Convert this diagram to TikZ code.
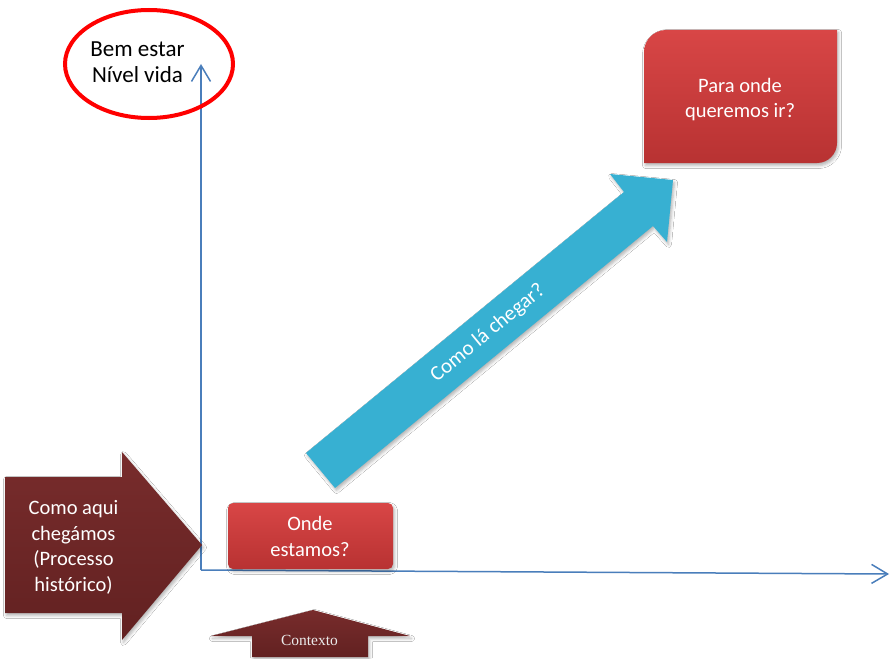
\documentclass[tikz,border=0pt]{standalone}
\usepackage{fontspec}
\setmainfont{Carlito}
\newfontfamily\timesfont{Liberation Serif}
\usetikzlibrary{arrows.meta,shadows.blur}
\definecolor{axisblue}{RGB}{74,126,187}
\definecolor{boxredtop}{RGB}{216,70,70}
\definecolor{boxredbot}{RGB}{184,50,50}
\definecolor{darkredtop}{RGB}{120,44,44}
\definecolor{darkredbot}{RGB}{98,33,33}
\definecolor{arrowblue}{RGB}{55,176,210}
\tikzset{
  axisline/.style={draw=axisblue, line width=1.5pt, -{Straight Barb[length=16pt,width=19pt,line width=1.5pt]}},
  softshadow/.style={blur shadow={shadow xshift=1.5pt, shadow yshift=-2.5pt, shadow opacity=30, shadow blur radius=3pt}},
  redshape/.style={softshadow, top color=boxredtop, bottom color=boxredbot},
  darkshape/.style={softshadow, top color=darkredtop, bottom color=darkredbot},
  blueshape/.style={softshadow, fill=arrowblue},
  whitetext/.style={text=white, align=center, inner sep=0pt, font=\fontsize{20.5}{25.5}\selectfont},
}
\begin{document}
\begin{tikzpicture}[x=1pt,y=-1pt]
\useasboundingbox[fill=white] (0,0) rectangle (890,658);

% axes
\coordinate (O) at (201,570);
\coordinate (Ytip) at (201,64);
\coordinate (Xtip) at (889,574);
\draw[axisline] (O) -- (Ytip);
\draw[axisline] (O) -- (Xtip);

% ellipse label
\draw[red, line width=4pt] (149,64) ellipse [x radius=84pt, y radius=54pt];
\node[align=center, inner sep=0pt, font=\fontsize{23}{26}\selectfont] (bem) at (137.5,62.5) {Bem estar\\Nível vida};

% Para onde queremos ir? box
\path[redshape] (644,52) .. controls (644,40) and (654,30) .. (666,30) -- (837,30) -- (837,143)
  .. controls (837,154) and (828,163) .. (817,163) -- (644,163) -- cycle;
\node[whitetext] (para) at (740,99.5) {Para onde\\queremos ir?};

% blue arrow
\path[blueshape] (306,453) -- (624,192) -- (610,174) -- (673,180) -- (667,242) -- (653,226) -- (335,488) -- cycle;
\node[text=white, inner sep=0pt, rotate=39.5, font=\fontsize{21}{25}\selectfont] (como) at (488,333) {Como lá chegar?};

% Onde estamos? box
\path[redshape, rounded corners=5pt] (228,503) rectangle (393,569);
\node[whitetext] (onde) at (310,536.5) {Onde\\estamos?};

% left arrow
\path[darkshape] (5,477) -- (122,477) -- (122,452) -- (202,545) -- (122,640) -- (122,613) -- (5,613) -- cycle;
\node[whitetext] (hist) at (73.5,547.5) {Como aqui\\chegámos\\(Processo\\histórico)};

% Contexto arrow
\path[darkshape] (252,657) -- (252,636) -- (211,636) -- (313,610) -- (410,636) -- (368,636) -- (368,657) -- cycle;
\node[text=white!92!black, inner sep=0pt, font=\timesfont\fontsize{15.5}{18}\selectfont] (ctx) at (309.5,640) {Contexto};
\end{tikzpicture}
\end{document}
